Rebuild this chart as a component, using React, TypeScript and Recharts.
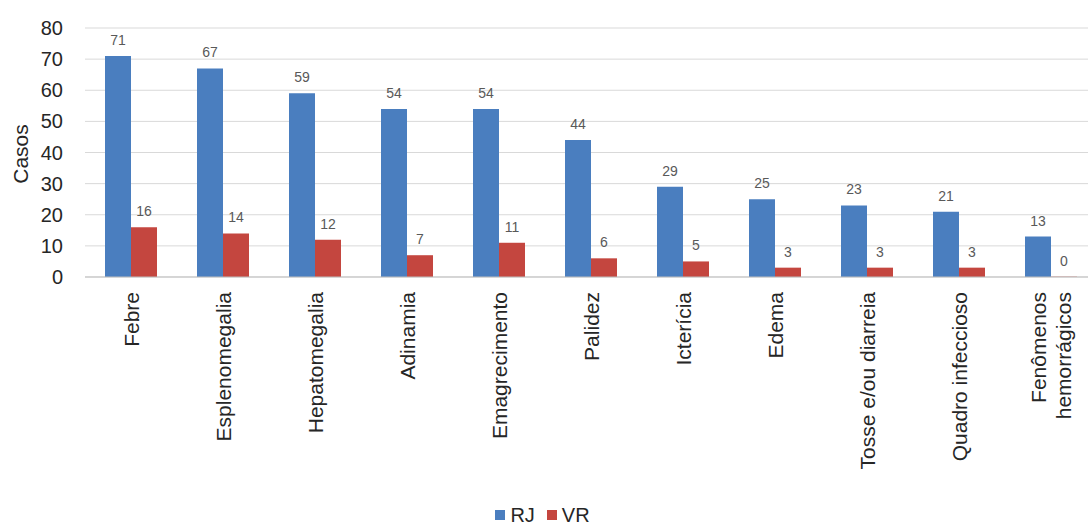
import { Bar, BarChart, CartesianGrid, LabelList, Legend, XAxis, YAxis } from 'recharts'

const categories = [
  'Febre',
  'Esplenomegalia',
  'Hepatomegalia',
  'Adinamia',
  'Emagrecimento',
  'Palidez',
  'Icterícia',
  'Edema',
  'Tosse e/ou diarreia',
  'Quadro infeccioso',
  'Fenômenos\nhemorrágicos',
]
const rjValues = [71, 67, 59, 54, 54, 44, 29, 25, 23, 21, 13]
const vrValues = [16, 14, 12, 7, 11, 6, 5, 3, 3, 3, 0]
const yTicks = [0, 10, 20, 30, 40, 50, 60, 70, 80]

const data = categories.map((name, i) => ({ name, RJ: rjValues[i], VR: vrValues[i] }))

const FONT = "Arial, 'Liberation Sans', sans-serif"
const BLUE = '#4A7EBF'
const RED = '#C4463F'
const TEXT = '#262626'

function CategoryTick(props: { x?: number; y?: number; payload?: { value: string } }) {
  const { x = 0, y = 0, payload } = props
  const lines = String(payload?.value ?? '').split('\n')
  const lineHeight = 25
  const first = -((lines.length - 1) * lineHeight) / 2
  return (
    <g transform={`translate(${x},${y}) rotate(-90)`}>
      {lines.map((line, i) => (
        <text
          key={line}
          x={0}
          y={first + i * lineHeight}
          dy="0.36em"
          textAnchor="end"
          fontSize={21}
          fontFamily={FONT}
          fill={TEXT}
        >
          {line}
        </text>
      ))}
    </g>
  )
}

// value label above each bar, drawn even when the bar has zero height
const renderValueLabel = (props: { x?: unknown; y?: unknown; width?: unknown; value?: unknown }) => {
  const x = Number(props.x)
  const y = Number(props.y)
  const width = Number(props.width)
  const value = Number(props.value)
  if (!Number.isFinite(x) || !Number.isFinite(y) || !Number.isFinite(value)) return null
  return (
    <text
      x={x + (Number.isFinite(width) ? width : 0) / 2}
      y={y - 11}
      textAnchor="middle"
      fontSize={14}
      fontFamily={FONT}
      fill="#595959"
    >
      {value}
    </text>
  )
}

function LegendContent() {
  const items = [
    { label: 'RJ', color: BLUE },
    { label: 'VR', color: RED },
  ]
  return (
    <div
      style={{
        display: 'flex',
        justifyContent: 'center',
        alignItems: 'center',
        gap: 12,
        paddingTop: 9,
        paddingRight: 12,
        fontFamily: FONT,
        fontSize: 20,
        lineHeight: '20px',
        color: TEXT,
      }}
    >
      {items.map((item) => (
        <span key={item.label} style={{ display: 'inline-flex', alignItems: 'center', gap: 5 }}>
          <span style={{ width: 10, height: 10, background: item.color, display: 'inline-block' }} />
          <span>{item.label}</span>
        </span>
      ))}
    </div>
  )
}

export default function App() {
  return (
    <div
      style={{
        position: 'absolute',
        top: 0,
        left: 0,
        width: 1088,
        height: 526,
        overflow: 'hidden',
        background: '#fff',
      }}
    >
      <BarChart
        width={1100}
        height={526}
        data={data}
        margin={{ top: 28, right: 3, left: 0, bottom: 0 }}
        barGap={0}
      >
        <CartesianGrid vertical={false} stroke="#D9D9D9" />
        <XAxis
          dataKey="name"
          interval={0}
          height={219}
          tickLine={false}
          tickSize={0}
          tickMargin={15}
          axisLine={{ stroke: '#BFBFBF' }}
          tick={<CategoryTick />}
        />
        <YAxis
          width={85}
          domain={[0, 80]}
          ticks={yTicks}
          axisLine={false}
          tickLine={false}
          tickMargin={16}
          tick={{ fontSize: 20, fontFamily: FONT, fill: TEXT }}
          label={{
            content: () => (
              <text
                x={20}
                y={154}
                transform="rotate(-90 20 154)"
                textAnchor="middle"
                dominantBaseline="central"
                fontSize={21}
                fontFamily={FONT}
                fill={TEXT}
              >
                Casos
              </text>
            ),
          }}
        />
        <Legend verticalAlign="bottom" height={30} content={<LegendContent />} />
        <Bar dataKey="RJ" fill={BLUE} barSize={26} isAnimationActive={false}>
          <LabelList dataKey="RJ" content={renderValueLabel} />
        </Bar>
        <Bar
          dataKey="VR"
          fill={RED}
          barSize={26}
          minPointSize={(value: number) => (value === 0 ? 0.3 : 0)}
          isAnimationActive={false}
        >
          <LabelList dataKey="VR" content={renderValueLabel} />
        </Bar>
      </BarChart>
    </div>
  )
}
